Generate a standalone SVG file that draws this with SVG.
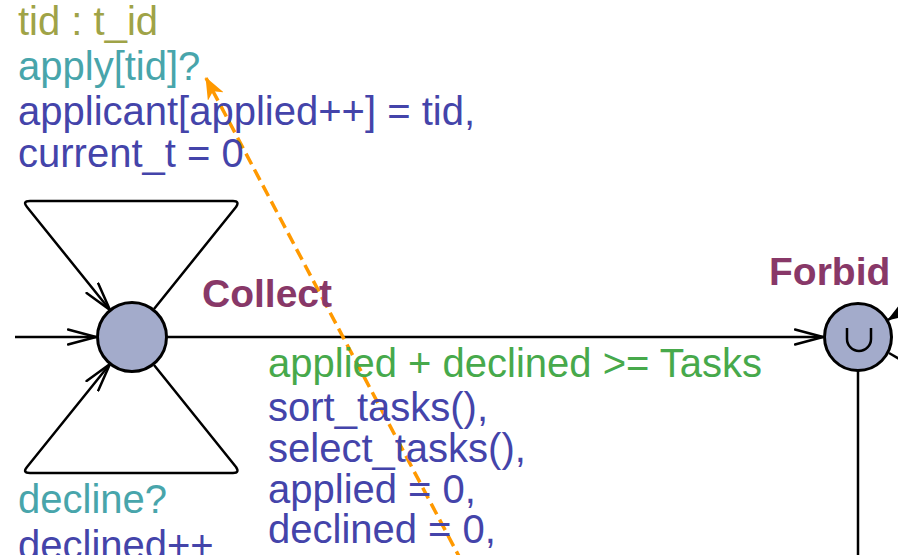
<svg xmlns="http://www.w3.org/2000/svg" width="898" height="555" viewBox="0 0 898 555">
<defs>
<marker id="arr" markerUnits="userSpaceOnUse" viewBox="0 0 30 18" refX="29" refY="9" markerWidth="30" markerHeight="18" orient="auto">
<path d="M1,1.5 L29,9 L1,16.5" fill="none" stroke="#000" stroke-width="2.5" stroke-linecap="round" stroke-linejoin="round"/>
</marker>
<marker id="farr" markerUnits="userSpaceOnUse" viewBox="0 0 20 16" refX="19" refY="8" markerWidth="20" markerHeight="16" orient="auto">
<path d="M0,1 L20,8 L0,15 L5,8 z" fill="#000"/>
</marker>
<marker id="oarr" markerUnits="userSpaceOnUse" viewBox="0 0 22 18" refX="21" refY="9" markerWidth="22" markerHeight="18" orient="auto">
<path d="M0,0 L22,9 L0,18 L6,9 z" fill="#ff9900"/>
</marker>
<style>
text{font-family:"Liberation Sans",Arial,sans-serif;font-size:40px}
.name{font-weight:bold;font-size:39px;fill:#883868}
.sel{fill:#9fa347}
.sync{fill:#48a5ab}
.upd{fill:#4444aa}
.grd{fill:#47a94b}
.edge{fill:none;stroke:#000;stroke-width:2.5;stroke-linejoin:round}
.loc{fill:#a3abcb;stroke:#000;stroke-width:3}
</style>
</defs>
<rect width="898" height="555" fill="#fff"/>
<g id="connectors">
<path class="edge" d="M15,337 L96,337" marker-end="url(#arr)"/>
<path class="edge" d="M167,337 L823,337" marker-end="url(#arr)"/>
<path class="edge" d="M154,309 L236,207 Q240,201 233,201 L30,201 Q22,201 27,207 L110,310" marker-end="url(#arr)"/>
<path class="edge" d="M154,365 L236,467 Q240,473 233,473 L30,473 Q22,473 27,467 L110,364" marker-end="url(#arr)"/>
<path class="edge" d="M922,298 L888,320" marker-end="url(#farr)"/>
<path class="edge" d="M889,353 L915,368"/>
<path class="edge" d="M858,371 L858,560"/>
<path d="M462,562 L206,78" fill="none" stroke="#ff9900" stroke-width="3.5" stroke-dasharray="12,6" marker-end="url(#oarr)"/>
</g>
<g id="Collect">
<circle class="loc" cx="132" cy="337" r="34.5"/>
<text class="name" x="202" y="307">Collect</text>
</g>
<g id="Forbid">
<circle class="loc" cx="858" cy="337" r="33.5"/>
<path d="M847,328 L847,339 A12,12 0 0 0 871,339 L871,328" fill="none" stroke="#000" stroke-width="2.5"/>
<text class="name" x="769" y="285">Forbid</text>
</g>
<g id="labels">
<text class="sel" x="18" y="35">tid : t_id</text>
<text class="sync" x="18" y="80">apply[tid]?</text>
<text class="upd" x="18" y="125">applicant[applied++] = tid,</text>
<text class="upd" x="18" y="167">current_t = 0</text>
<text class="grd" x="268" y="377">applied + declined &gt;= Tasks</text>
<text class="upd" x="268" y="421">sort_tasks(),</text>
<text class="upd" x="268" y="462">select_tasks(),</text>
<text class="upd" x="268" y="503">applied = 0,</text>
<text class="upd" x="268" y="543">declined = 0,</text>
<text class="sync" x="18" y="513">decline?</text>
<text class="upd" x="18" y="559">declined++</text>
</g>
</svg>
